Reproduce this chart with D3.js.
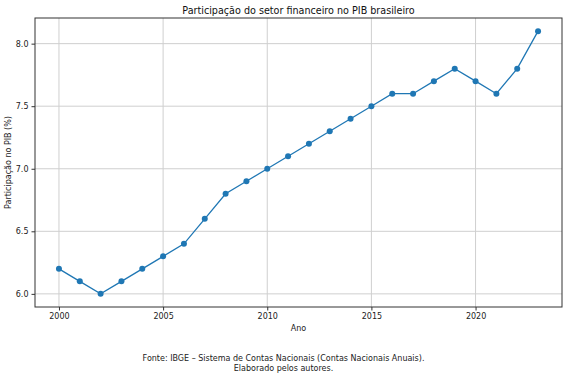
<!DOCTYPE html>
<html>
<head>
<meta charset="utf-8">
<script src="https://cdn.jsdelivr.net/npm/d3@7"></script>
<style>
  body { margin: 0; background: #fff; }
  svg { display: block; font-family: "DejaVu Sans", sans-serif; }
</style>
</head>
<body>
<div id="chart"></div>
<script>
// data
const years  = [2000, 2001, 2002, 2003, 2004, 2005, 2006, 2007, 2008, 2009, 2010, 2011,
                2012, 2013, 2014, 2015, 2016, 2017, 2018, 2019, 2020, 2021, 2022, 2023];
const shares = [6.2, 6.1, 6.0, 6.1, 6.2, 6.3, 6.4, 6.6, 6.8, 6.9, 7.0, 7.1,
                7.2, 7.3, 7.4, 7.5, 7.6, 7.6, 7.7, 7.8, 7.7, 7.6, 7.8, 8.1];
const xTicks = [2000, 2005, 2010, 2015, 2020];
const yTicks = [6.0, 6.5, 7.0, 7.5, 8.0];

const titleText  = "Participação do setor financeiro no PIB brasileiro";
const xLabelText = "Ano";
const yLabelText = "Participação no PIB (%)";
const footerLines = [
  "Fonte: IBGE – Sistema de Contas Nacionais (Contas Nacionais Anuais).",
  "Elaborado pelos autores."
];

const width = 567, height = 376;
const margin = { top: 18, right: 5, bottom: 69, left: 35 };
const innerWidth  = width - margin.left - margin.right;
const innerHeight = height - margin.top - margin.bottom;

const data = years.map((y, i) => ({ year: y, value: shares[i] }));

const svg = d3.select("#chart").append("svg")
  .attr("width", width)
  .attr("height", height);

const g = svg.append("g")
  .attr("transform", `translate(${margin.left},${margin.top})`);

// matplotlib-style 5% padding on both axes
const xPad = (d3.max(years) - d3.min(years)) * 0.05;
const yPad = (d3.max(shares) - d3.min(shares)) * 0.05;

const x = d3.scaleLinear()
  .domain([d3.min(years) - xPad, d3.max(years) + xPad])
  .range([0, innerWidth]);

const y = d3.scaleLinear()
  .domain([d3.min(shares) - yPad, d3.max(shares) + yPad])
  .range([innerHeight, 0]);

// grid
g.append("g")
  .selectAll("line.vgrid")
  .data(xTicks)
  .join("line")
  .attr("x1", d => x(d)).attr("x2", d => x(d))
  .attr("y1", 0).attr("y2", innerHeight)
  .attr("stroke", "#cfcfcf").attr("stroke-width", 1);

g.append("g")
  .selectAll("line.hgrid")
  .data(yTicks)
  .join("line")
  .attr("x1", 0).attr("x2", innerWidth)
  .attr("y1", d => y(d)).attr("y2", d => y(d))
  .attr("stroke", "#cfcfcf").attr("stroke-width", 1);

// axes
const xAxis = g.append("g")
  .attr("transform", `translate(0,${innerHeight})`)
  .call(d3.axisBottom(x).tickValues(xTicks).tickFormat(d3.format("d")).tickSize(3.5).tickPadding(3));

const yAxis = g.append("g")
  .call(d3.axisLeft(y).tickValues(yTicks).tickFormat(d3.format(".1f")).tickSize(3.5).tickPadding(3));

[xAxis, yAxis].forEach(a => {
  a.select(".domain").remove();
  a.selectAll("text").attr("font-size", 8).attr("fill", "#222").attr("font-family", "DejaVu Sans");
  a.selectAll("line").attr("stroke", "#333");
});

// frame
g.append("rect")
  .attr("width", innerWidth)
  .attr("height", innerHeight)
  .attr("fill", "none")
  .attr("stroke", "#333")
  .attr("stroke-width", 1);

// line + markers
const line = d3.line()
  .x(d => x(d.year))
  .y(d => y(d.value));

g.append("path")
  .datum(data)
  .attr("fill", "none")
  .attr("stroke", "#1f77b4")
  .attr("stroke-width", 1.3)
  .attr("d", line);

g.selectAll(".dot")
  .data(data)
  .join("circle")
  .attr("class", "dot")
  .attr("cx", d => x(d.year))
  .attr("cy", d => y(d.value))
  .attr("r", 3)
  .attr("fill", "#1f77b4");

// labels
svg.append("text")
  .attr("x", margin.left + innerWidth / 2)
  .attr("y", 14)
  .attr("text-anchor", "middle")
  .attr("font-size", 9.6)
  .attr("fill", "#111")
  .text(titleText);

svg.append("text")
  .attr("x", margin.left + innerWidth / 2)
  .attr("y", 331)
  .attr("text-anchor", "middle")
  .attr("font-size", 8)
  .attr("fill", "#222")
  .text(xLabelText);

svg.append("text")
  .attr("transform", `translate(11,${margin.top + innerHeight / 2}) rotate(-90)`)
  .attr("text-anchor", "middle")
  .attr("font-size", 8)
  .attr("fill", "#222")
  .text(yLabelText);

svg.append("g")
  .selectAll("text")
  .data(footerLines)
  .join("text")
  .attr("x", width / 2)
  .attr("y", (d, i) => 361 + i * 9.5)
  .attr("text-anchor", "middle")
  .attr("font-size", 8)
  .attr("fill", "#222")
  .text(d => d);
</script>
</body>
</html>
